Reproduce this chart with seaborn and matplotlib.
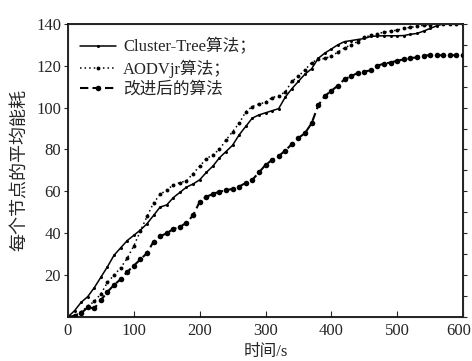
import numpy as np
import pandas as pd
import matplotlib
matplotlib.use("Agg")
import matplotlib.pyplot as plt
import matplotlib.transforms as mtransforms
import seaborn as sns
from matplotlib.ticker import MultipleLocator

sns.set_style("ticks")
plt.rcParams['font.family'] = ['Liberation Serif', 'Noto Sans CJK SC']

time_s = list(range(0, 610, 10))

cluster_tree = [0, 3, 7, 9.7, 14, 19, 24, 29.5, 33, 36.5, 39, 41.5, 44.5, 48.5, 52.5, 53.5,
                57, 59.5, 62, 63.5, 65.5, 69, 72, 76, 79, 82, 87, 91, 95, 96.5, 97.5, 98.5,
                99.5, 105, 109, 112.5, 116, 118.5, 123.5, 126, 128, 130, 131.5, 132, 132.5,
                133, 134, 134.2, 134.3, 134.3, 134.3, 134.4, 135, 135.4, 136.5, 137.8, 139,
                140, 140, 140, 140]

aodvjr = [0, 0.5, 2.5, 5, 7.5, 11, 16.5, 20, 23.5, 28, 34, 41, 48, 54.5, 58.5, 60.7, 63,
          64.2, 65, 68.5, 72, 75.5, 77.5, 80, 84.5, 88.5, 92.5, 98, 100.5, 101.7, 102.5,
          104.8, 105.6, 107.5, 112.5, 115, 118, 121.5, 123, 123.5, 124.5, 126.5, 128.5,
          130, 131.5, 133.5, 134.5, 135.3, 136, 136.5, 137, 137.8, 138.3, 138.8, 139.3,
          139.6, 140, 140, 140, 140, 140]

improved = [0, 0.5, 1.8, 4.6, 4.1, 8, 12, 15.3, 18, 21.5, 24.5, 27.5, 30.5, 36, 38.5, 40,
            42, 43, 45, 48.5, 55, 57.3, 58.8, 59.8, 60.5, 61.2, 62.3, 64, 65.5, 69, 72.6,
            75, 76.8, 79.5, 82.5, 85.5, 87.8, 92.5, 101, 105.5, 108, 110.5, 113.5, 115,
            116.5, 117.2, 117.8, 120, 121, 121.5, 122.4, 123, 123.6, 124, 124.8, 125, 125,
            125, 125, 125, 125]

labels = ["Cluster-Tree算法；", "AODVjr算法；", "改进后的算法"]

df = pd.DataFrame({"t": time_s, "ct": cluster_tree, "ao": aodvjr, "im": improved})

fig = plt.figure(figsize=(4.72, 3.61), dpi=100)
ax = fig.add_axes([0.144, 0.122, 0.837, 0.812])

sns.lineplot(data=df, x="t", y="ct", ax=ax, color="black", linestyle="-", linewidth=1.1,
             marker="o", markersize=2.2, markeredgewidth=0, label=labels[0])
sns.lineplot(data=df, x="t", y="ao", ax=ax, color="black", linestyle=(0, (1, 2)), linewidth=1.1,
             marker="o", markersize=2.8, markeredgewidth=0, label=labels[1])
sns.lineplot(data=df, x="t", y="im", ax=ax, color="black", linestyle=(0, (4, 2)), linewidth=1.5,
             marker="o", markersize=4, markeredgewidth=0, label=labels[2])

ax.set_xlim(0, 600)
ax.set_ylim(0, 140)
ax.set_xticks([0, 100, 200, 300, 400, 500, 600])
ax.set_yticks([20, 40, 60, 80, 100, 120, 140])
ax.tick_params(axis='x', direction='in', length=4, labelsize=12, pad=4)
ax.tick_params(axis='y', direction='out', length=3, labelsize=12, pad=2)
for sp in ax.spines.values():
    sp.set_visible(True)
    sp.set_linewidth(1.2)
    sp.set_color("black")

# shift the last x tick label slightly left so it stays inside the figure
last = ax.get_xticklabels()[-1]
last.set_transform(last.get_transform() +
                   mtransforms.ScaledTranslation(-4 / 100, 0, fig.dpi_scale_trans))

# right spine minor ticks
axr = ax.twinx()
axr.set_ylim(0, 140)
axr.yaxis.set_major_locator(MultipleLocator(10))
axr.tick_params(axis='y', direction='out', length=3, labelright=False)

ax.set_xlabel("时间/s", fontsize=12, labelpad=4)
ax.set_ylabel("每个节点的平均能耗", fontsize=13, labelpad=6)

leg = ax.legend(loc="upper left", frameon=False, fontsize=12, handlelength=2.2,
                handletextpad=0.4, labelspacing=0.25, borderaxespad=0.3,
                bbox_to_anchor=(0.0, 0.99))

fig.savefig("out.png", dpi=100)
